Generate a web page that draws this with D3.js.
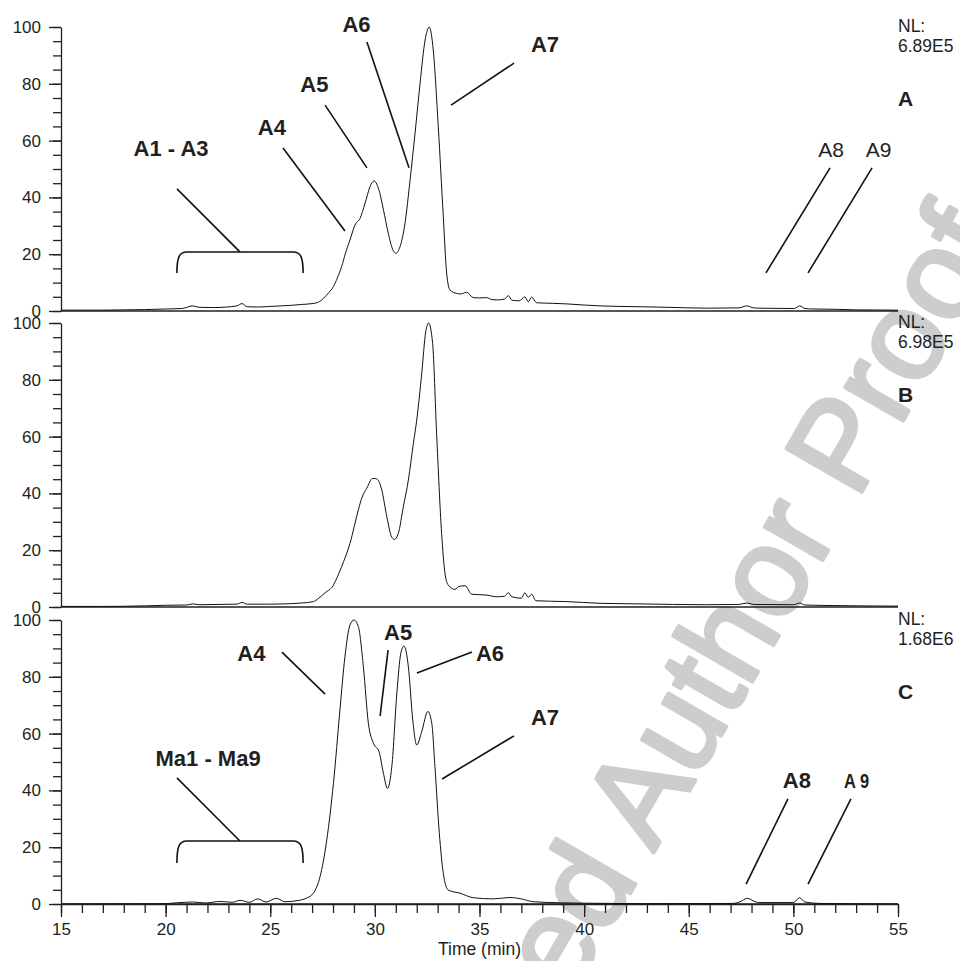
<!DOCTYPE html>
<html>
<head>
<meta charset="utf-8">
<script src="https://cdn.jsdelivr.net/npm/d3@7"></script>
<style>
  body { margin: 0; background: #fff; }
  svg text { font-family: "Liberation Sans", Arial, sans-serif; fill: #231f20; }
</style>
</head>
<body>
<svg id="chart" width="960" height="961"></svg>
<script>
// chromatogram traces, [time (min), relative abundance %]
var traceA = [[15,0.3],[16,0.3],[17,0.3],[18,0.4],[19,0.5],[20,0.7],[20.8,0.9],[21.3,1.8],[21.6,1.3],[22.3,1.2],[22.9,1.4],[23.4,1.8],[23.65,2.6],[23.9,1.5],[24.4,1.4],[25,1.6],[25.5,1.8],[26,2.0],[26.5,2.3],[27,2.6],[27.3,3.1],[27.55,4.5],[27.8,6.5],[28.02,8.6],[28.2,11.5],[28.41,15.6],[28.6,20.5],[28.81,25],[29.05,30.3],[29.29,32.6],[29.53,37.9],[29.77,43.8],[29.96,45.8],[30.17,43.2],[30.41,35.6],[30.64,27.4],[30.88,21.2],[31.0,20.3],[31.2,22.6],[31.44,30.9],[31.68,46],[31.92,62.6],[32.16,80.2],[32.4,95.4],[32.6,100],[32.79,91.9],[33.03,64.9],[33.27,33.2],[33.43,13.3],[33.59,7.4],[33.91,6.2],[34.1,6.0],[34.39,6.6],[34.7,4.7],[35.0,4.6],[35.34,4.7],[35.6,4.0],[35.82,3.9],[36.2,4.2],[36.38,5.4],[36.55,3.8],[36.9,3.6],[37.17,5.0],[37.33,3.2],[37.49,4.9],[37.73,2.9],[38.5,2.7],[39.17,2.5],[40,2.1],[40.76,1.8],[42.67,1.5],[44,1.3],[45.86,1.0],[47.4,1.1],[47.77,1.8],[48.1,1.1],[48.4,1.0],[49.5,0.9],[50.05,0.9],[50.3,1.8],[50.55,0.9],[50.9,0.7],[52,0.6],[53,0.4],[54,0.35],[55,0.3]];
var traceB = [[15,0.2],[17,0.2],[19,0.4],[20,0.6],[21,0.7],[21.3,1.1],[21.6,0.8],[22.5,0.9],[23.4,1.0],[23.65,1.6],[23.9,1.0],[25,1.0],[25.47,1.06],[26.5,1.4],[27.06,1.9],[27.3,3.0],[27.62,5.0],[28.02,7.7],[28.2,10.5],[28.41,14.2],[28.81,22.4],[29.21,34.2],[29.37,38.3],[29.61,41.8],[29.9,45.3],[30.05,45.2],[30.17,44.5],[30.33,41.2],[30.57,31.8],[30.81,24.5],[30.93,23.8],[31.12,25.9],[31.36,35.3],[31.6,44.7],[31.84,57.6],[32.0,65.8],[32.24,82.3],[32.43,96.9],[32.57,100],[32.76,92.8],[32.95,61.2],[33.19,25.9],[33.35,11.9],[33.51,7.7],[33.83,6.2],[34.0,7.2],[34.31,7.5],[34.63,4.5],[35.34,4.2],[35.82,3.6],[36.2,3.8],[36.38,5.0],[36.54,3.6],[37.0,3.1],[37.17,5.0],[37.33,3.4],[37.49,4.5],[37.7,2.2],[39.17,1.9],[40.76,1.3],[42.67,1.1],[45.8,0.8],[47.4,0.9],[47.77,1.4],[48.1,0.9],[50.0,0.8],[50.3,1.4],[50.55,0.7],[52,0.5],[55,0.3]];
var traceC = [[15,0],[19.9,0.1],[20.5,0.4],[21.3,0.7],[21.9,0.35],[22.6,0.9],[23.2,0.6],[23.55,1.3],[24.0,0.6],[24.4,1.8],[24.8,0.7],[25.3,2.0],[25.7,0.8],[26.4,1.3],[26.74,2.1],[27.06,3.8],[27.38,9.6],[27.7,22.5],[28.02,42.5],[28.33,68.3],[28.57,87.1],[28.81,98.2],[29.0,100],[29.21,97.7],[29.45,83.6],[29.69,63.6],[29.93,56.6],[30.2,53.6],[30.41,46],[30.6,40.7],[30.81,48.4],[31.05,74.2],[31.24,88.3],[31.39,90.8],[31.6,83.6],[31.81,64.8],[32.0,56],[32.24,60.7],[32.53,67.8],[32.72,63.6],[32.87,48.4],[33.08,24.9],[33.27,10.8],[33.51,4.9],[34.07,3.8],[34.71,2.2],[35.67,1.8],[36.46,2.3],[37.0,1.8],[37.57,0.8],[39,0.4],[41.4,0.2],[42.67,0.1],[47.13,0.2],[47.45,0.8],[47.8,2.0],[48.17,0.8],[48.4,0.5],[50.0,0.5],[50.3,2.2],[50.55,0.7],[51.28,0.2],[55,0]];

var panelNames = ['A', 'B', 'C'];
var nlValues = ['6.89E5', '6.98E5', '1.68E6'];

// peak annotations: label, text pos [t, %], leader line [t1, %1, t2, %2]
var notesA = [
  {label: 'A1 - A3', at: [20.26, 54.6], line: [20.54, 43.0, 23.55, 20.8], bold: true},
  {label: 'A4', at: [25.08, 62.0], line: [25.61, 57.4, 28.57, 28.2], bold: true},
  {label: 'A5', at: [27.11, 77.1], line: [27.62, 72.5, 29.62, 50.4], bold: true},
  {label: 'A6', at: [29.12, 98.2], line: [29.62, 94.7, 31.63, 50.4], bold: true},
  {label: 'A7', at: [38.13, 91.2], line: [36.65, 87.3, 33.64, 72.5], bold: true},
  {label: 'A8', at: [51.80, 54.2], line: [51.75, 50.4, 48.69, 13.4], bold: false},
  {label: 'A9', at: [54.07, 54.2], line: [53.76, 50.4, 50.70, 13.4], bold: false}
];
var notesC = [
  {label: 'Ma1 - Ma9', at: [22.03, 48.6], line: [20.54, 44.4, 23.55, 22.2], bold: true},
  {label: 'A4', at: [24.10, 85.6], line: [25.56, 88.7, 27.62, 73.9], bold: true},
  {label: 'A5', at: [31.11, 93.0], line: [30.63, 89.4, 30.25, 66.2], bold: true},
  {label: 'A6', at: [35.50, 85.6], line: [34.64, 88.7, 32.01, 81.3], bold: true},
  {label: 'A7', at: [38.13, 63.0], line: [36.65, 59.2, 33.21, 44.0], bold: true},
  {label: 'A8', at: [50.17, 40.8], line: [49.74, 37.0, 47.74, 7.0], bold: true},
  {label: 'A 9', at: [53.02, 40.8], line: [52.75, 37.0, 50.70, 7.0], bold: true, narrow: true}
];
// brackets: [tLeft, tRight, top %, end %]
var bracketA = [20.54, 26.57, 20.8, 13.4];
var bracketC = [20.54, 26.57, 22.2, 14.4];

var svg = d3.select('#chart');
var ink = '#231f20';

// watermark behind everything
svg.append('text')
   .attr('transform', 'translate(692,786) rotate(-60)')
   .attr('text-anchor', 'middle')
   .style('font-size', '126px')
   .style('fill', '#cdcdcd')
   .style('stroke', '#cdcdcd')
   .style('stroke-width', '4px')
   .style('stroke-linejoin', 'round')
   .text('Accepted Author Proof');

var x = d3.scaleLinear().domain([15, 55]).range([61, 898]);
var tops = [27, 323, 620];
var H = 284;

var lineGen = d3.line()
  .x(function(d) { return x(d[0]); })
  .curve(d3.curveMonotoneX);

[traceA, traceB, traceC].forEach(function(trace, i) {
  var y = d3.scaleLinear().domain([0, 100]).range([tops[i] + H, tops[i]]);
  var g = svg.append('g');

  // minor y ticks
  g.append('g')
   .attr('transform', 'translate(61,0)')
   .call(d3.axisLeft(y).tickValues(d3.range(0, 101, 5)).tickSize(8).tickFormat(''))
   .call(function(a) { a.select('.domain').remove(); });
  // major y ticks with labels
  var ya = g.append('g')
   .attr('transform', 'translate(61,0)')
   .call(d3.axisLeft(y).tickValues([0, 20, 40, 60, 80, 100]).tickSize(12).tickPadding(8).tickSizeOuter(0));
  ya.selectAll('text').style('font-size', '17px').style('fill', ink);

  // baseline
  g.append('line')
   .attr('x1', x(15)).attr('x2', x(55))
   .attr('y1', y(0)).attr('y2', y(0));

  g.selectAll('path, line').style('stroke', ink).style('stroke-width', '1.3px');

  // trace
  lineGen.y(function(d) { return y(d[1]); });
  g.append('path')
   .attr('d', lineGen(trace))
   .style('fill', 'none')
   .style('stroke', '#111')
   .style('stroke-width', '1px');

  // NL and panel letter
  g.append('text').attr('x', x(55)).attr('y', y(98.2)).style('font-size', '17.5px').text('NL:');
  g.append('text').attr('x', x(55)).attr('y', y(91.2)).style('font-size', '17.5px').text(nlValues[i]);
  g.append('text').attr('x', x(55)).attr('y', y(72.2))
   .style('font-size', '21px').style('font-weight', 'bold').text(panelNames[i]);

  var notes = i === 0 ? notesA : (i === 2 ? notesC : []);
  notes.forEach(function(n) {
    g.append('line')
     .attr('x1', x(n.line[0])).attr('y1', y(n.line[1]))
     .attr('x2', x(n.line[2])).attr('y2', y(n.line[3]))
     .style('stroke', '#111').style('stroke-width', '1.6px');
    var t = g.append('text')
     .attr('x', x(n.at[0])).attr('y', y(n.at[1]))
     .attr('text-anchor', 'middle')
     .style('font-size', n.bold ? '22px' : '21px')
     .style('font-weight', n.bold ? 'bold' : 'normal')
     .text(n.label);
    if (n.narrow) t.attr('textLength', 25).attr('lengthAdjust', 'spacingAndGlyphs').style('font-size', '20px');
  });

  var br = i === 0 ? bracketA : (i === 2 ? bracketC : null);
  if (br) {
    var xl = x(br[0]), xr = x(br[1]), yt = y(br[2]), ye = y(br[3]);
    var p = d3.path();
    p.moveTo(xl, ye);
    p.bezierCurveTo(xl, yt + 6, xl + 2, yt, xl + 10, yt);
    p.lineTo(xr - 10, yt);
    p.bezierCurveTo(xr - 2, yt, xr, yt + 6, xr, ye);
    g.append('path').attr('d', p.toString())
     .style('fill', 'none').style('stroke', '#111').style('stroke-width', '1.6px');
  }

  if (i === 2) {
    var xg = svg.append('g').attr('transform', 'translate(0,' + y(0) + ')');
    xg.call(d3.axisBottom(x).tickValues(d3.range(15, 56, 1)).tickSize(9).tickFormat(''))
      .call(function(a) { a.select('.domain').remove(); });
    var xm = svg.append('g').attr('transform', 'translate(0,' + y(0) + ')')
      .call(d3.axisBottom(x).tickValues(d3.range(15, 56, 5)).tickSize(13).tickPadding(6).tickSizeOuter(0));
    xm.selectAll('text').style('font-size', '17px').style('fill', ink);
    xg.selectAll('line').style('stroke', ink).style('stroke-width', '1.3px');
    xm.selectAll('path, line').style('stroke', ink).style('stroke-width', '1.3px');
    svg.append('text')
     .attr('x', x(35)).attr('y', 955)
     .attr('text-anchor', 'middle')
     .style('font-size', '17.5px')
     .text('Time (min)');
  }
});
</script>
</body>
</html>
